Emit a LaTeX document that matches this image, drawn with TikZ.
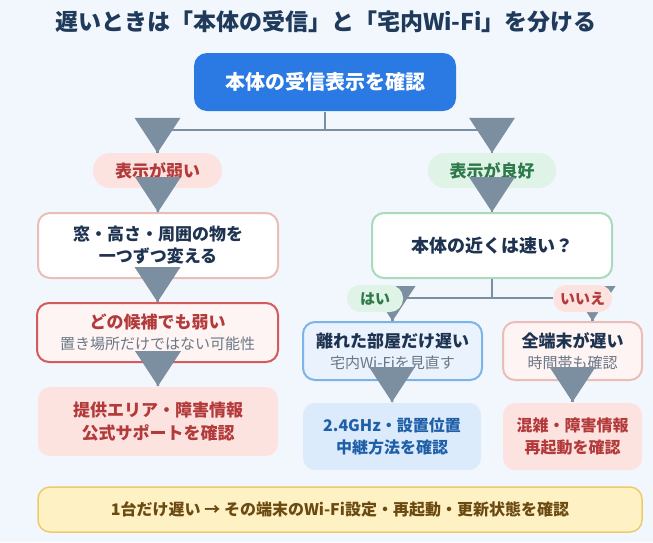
\documentclass[tikz,border=0pt]{standalone}
\usepackage{fontspec}
\setmainfont{Noto Sans CJK JP}
\usepackage{tikz}

\definecolor{bgblue}{HTML}{F2F7FD}
\definecolor{titlenavy}{HTML}{1F3A5A}
\definecolor{textnavy}{HTML}{1E3350}
\definecolor{topblue}{HTML}{2B79E2}
\definecolor{arrowgray}{HTML}{7B8FA1}
\definecolor{subgray}{HTML}{6B7785}
\definecolor{redtext}{HTML}{B23A3A}
\definecolor{greentext}{HTML}{2D7A4B}
\definecolor{bluetext}{HTML}{1F5FA8}
\definecolor{browntext}{HTML}{6B4A12}
\definecolor{pinkfill}{HTML}{FDE3E0}
\definecolor{palepink}{HTML}{FEF4F3}
\definecolor{pinkline}{HTML}{EBBDB8}
\definecolor{redline}{HTML}{D45B5B}
\definecolor{greenfill}{HTML}{DFF3E6}
\definecolor{greenline}{HTML}{A9DABB}
\definecolor{bluefill}{HTML}{DCEBFC}
\definecolor{paleblue}{HTML}{E9F2FD}
\definecolor{blueline}{HTML}{7DB4E8}
\definecolor{yellowfill}{HTML}{FEF1C4}
\definecolor{yellowline}{HTML}{EBCB6B}

\newcommand{\subtext}[1]{{\mdseries\fontsize{15}{18}\selectfont\color{subgray}#1}}

\tikzset{
  box/.style={shape=rectangle,rounded corners=12pt,inner sep=0pt,align=center,
    line width=2pt,text=textnavy,font=\bfseries\fontsize{17}{22}\selectfont},
  pill/.style={shape=rectangle,rounded corners=17pt,inner sep=0pt,
    minimum height=35pt,font=\bfseries\fontsize{17}{20}\selectfont},
  smallpill/.style={pill,rounded corners=13pt,minimum height=27pt,
    font=\bfseries\fontsize{15}{18}\selectfont},
  flowline/.style={draw=arrowgray,line width=2.5pt},
  downtip/.pic={\fill[arrowgray] (-23,-35) -- (23,-35) -- (0,0) -- cycle;},
}

\begin{document}
\begin{tikzpicture}[x=1pt,y=-1pt]
\fill[bgblue] (0,0) rectangle (653,542);
\useasboundingbox (0,0) rectangle (653,542);

\node (title)[font=\bfseries\fontsize{23}{28}\selectfont,text=titlenavy]
    at (326, 22) {遅いときは「本体の受信」と「宅内Wi-Fi」を分ける};

\node (check)[box,fill=topblue,text=white,rounded corners=13pt,
    minimum width=262pt,minimum height=58pt,font=\bfseries\fontsize{20}{24}\selectfont]
    at (325, 82) {本体の受信表示を確認};

% left branch
\node (weak)[pill,fill=pinkfill,text=redtext,minimum width=129pt]
    at (157.5, 170.5) {表示が弱い};
\node (window)[box,fill=white,draw=pinkline,minimum width=240pt,minimum height=65pt]
    at (158, 245.5) {窓・高さ・周囲の物を\\一つずつ変える};
\node (allweak)[box,fill=palepink,draw=redline,text=redtext,
    minimum width=241pt,minimum height=59pt]
    at (157.5, 332.5) {どの候補でも弱い\\[-1pt]\subtext{置き場所だけではない可能性}};
\node (area)[box,fill=pinkfill,text=redtext,minimum width=240pt,minimum height=69pt]
    at (158, 421.5) {提供エリア・障害情報\\[1pt]公式サポートを確認};

% right branch
\node (good)[pill,fill=greenfill,text=greentext,minimum width=128pt]
    at (492, 170.5) {表示が良好};
\node (near)[box,fill=white,draw=greenline,minimum width=240pt,minimum height=65pt,
    font=\bfseries\fontsize{18}{22}\selectfont]
    at (492, 245.5) {本体の近くは速い？};
\node (far)[box,fill=paleblue,draw=blueline,minimum width=179pt,minimum height=58pt]
    at (392.5, 351) {離れた部屋だけ遅い\\[-1pt]\subtext{宅内Wi-Fiを見直す}};
\node (every)[box,fill=palepink,draw=pinkline,minimum width=139pt,minimum height=58pt]
    at (572.5, 351) {全端末が遅い\\[-1pt]\subtext{時間帯も確認}};
\node (wifi)[box,fill=bluefill,text=bluetext,minimum width=178pt,minimum height=67pt,
    font=\bfseries\fontsize{16}{22}\selectfont]
    at (392, 436.5) {2.4GHz・設置位置\\中継方法を確認};
\node (jam)[box,fill=pinkfill,text=redtext,minimum width=139pt,minimum height=67pt,
    font=\bfseries\fontsize{16}{22}\selectfont]
    at (572.5, 436.5) {混雑・障害情報\\再起動を確認};

\node (single)[box,fill=yellowfill,draw=yellowline,text=browntext,
    minimum width=604pt,minimum height=45pt,line width=1.5pt,
    font=\bfseries\fontsize{16}{20}\selectfont]
    at (340, 509.5) {1台だけ遅い → その端末のWi-Fi設定・再起動・更新状態を確認};

\coordinate (split) at (325, 130);
\coordinate (fork) at (492, 298);
\coordinate (noend) at ([xshift=20pt]every.north);

% connectors, then their big tips
\draw [flowline] (check.south) -- (split) -| (weak.north);
\draw [flowline] (check.south) -- (split) -| (good.north);
\draw [flowline] (near.south) -- (fork) -| (far.north);
\draw [flowline] (near.south) -- (fork) -| (noend);
\path [flowline] (weak.south) edge (window.north)
    (window.south) edge (allweak.north)
    (allweak.south) edge (area.north)
    (good.south) edge (near.north)
    (far.south) edge (wifi.north)
    (every.south) edge (jam.north);

\foreach \target in {weak.north, good.north, window.north, near.north,
    allweak.north, area.north, far.north, noend, wifi.north, jam.north}
  \pic at (\target) {downtip};

\node (yes)[smallpill,fill=greenfill,text=greentext,minimum width=56pt]
    at (375, 298.5) {はい};
\node (no)[smallpill,fill=pinkfill,text=redtext,minimum width=59pt]
    at (582.5, 298.5) {いいえ};
\end{tikzpicture}
\end{document}
